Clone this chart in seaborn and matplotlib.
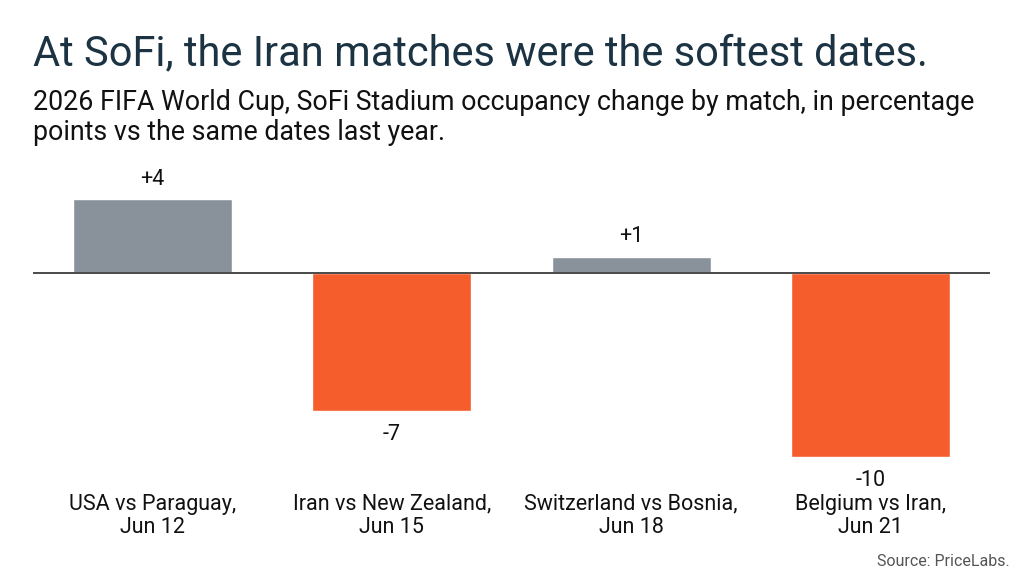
import matplotlib
matplotlib.use('Agg')
import matplotlib.pyplot as plt
import seaborn as sns
import pandas as pd

# data
matches = ['USA vs Paraguay,\nJun 12', 'Iran vs New Zealand,\nJun 15',
           'Switzerland vs Bosnia,\nJun 18', 'Belgium vs Iran,\nJun 21']
change = [4.0, -7.5, 0.9, -10.0]
labels = ['+4', '-7', '+1', '-10']
iran_match = ['no', 'yes', 'no', 'yes']

GRAY = '#89929b'
ORANGE = '#f55d2c'
TITLE_C = '#1b3342'

sns.set_theme(style='white')
plt.rcParams['font.family'] = ['Roboto', 'DejaVu Sans']

df = pd.DataFrame({'match': matches, 'change': change, 'iran': iran_match})

fig = plt.figure(figsize=(10.24, 5.72), dpi=100)
fig.patch.set_facecolor('white')
ax = fig.add_axes([33 / 1024, 1 - 470 / 572, 957 / 1024, 300 / 572])

sns.barplot(data=df, x='match', y='change', hue='iran',
            palette={'no': GRAY, 'yes': ORANGE}, width=0.665,
            dodge=False, legend=False, saturation=1, ax=ax)

ax.set_xlim(-0.5, 3.5)
ax.set_ylim(-10.7, 5.6)
ax.axhline(0, color='#4a4a4a', lw=1.4, zorder=3)

for i, (v, lab) in enumerate(zip(change, labels)):
    if v >= 0:
        ax.annotate(lab, (i, v), xytext=(0, 7), textcoords='offset points',
                    ha='center', va='bottom', fontsize=15.5, color='#111111')
    else:
        ax.annotate(lab, (i, v), xytext=(0, -9), textcoords='offset points',
                    ha='center', va='top', fontsize=15.5, color='#111111')

ax.set_xlabel('')
ax.set_ylabel('')
ax.set_yticks([])
ax.set_xticks(range(len(matches)))
ax.set_xticklabels(matches, fontsize=15.5, color='#111111', linespacing=1.15)
ax.tick_params(axis='x', length=0, pad=17)
sns.despine(ax=ax, left=True, bottom=True)
ax.set_facecolor('none')

fig.text(33 / 1024, 1 - 65 / 572, 'At SoFi, the Iran matches were the softest dates.',
         fontsize=30, color=TITLE_C, ha='left', va='baseline')
fig.text(33 / 1024, 1 - 110 / 572,
         '2026 FIFA World Cup, SoFi Stadium occupancy change by match, in percentage',
         fontsize=19.3, color='#111111', ha='left', va='baseline')
fig.text(33 / 1024, 1 - 140 / 572, 'points vs the same dates last year.',
         fontsize=19.3, color='#111111', ha='left', va='baseline')
fig.text(1010 / 1024, 1 - 566 / 572, 'Source: PriceLabs.', fontsize=11.5,
         color='#555555', ha='right', va='baseline')

fig.savefig('out.png', dpi=100, facecolor='white')
